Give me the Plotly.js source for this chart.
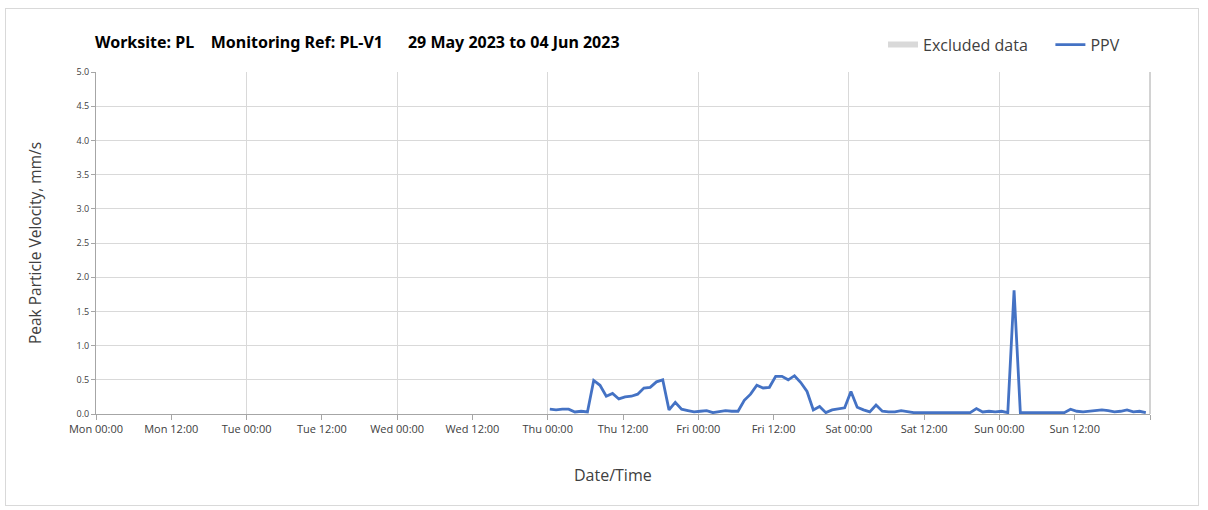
<!DOCTYPE html>
<html>
<head>
<meta charset="utf-8">
<script src="https://cdn.plot.ly/plotly-3.0.1.min.js"></script>
<style>
  html, body { margin: 0; padding: 0; background: #fff; }
  #wrap { position: relative; width: 1208px; height: 510px; }
  #chart { width: 1208px; height: 510px; }
  #frame { position: absolute; left: 5px; top: 8px; width: 1192px; height: 496px; border: 1px solid #d9d9d9; pointer-events: none; }
</style>
</head>
<body>
<div id="wrap">
  <div id="chart"></div>
  <div id="frame"></div>
</div>
<script>
// ---- Data ----
const titleText = "Worksite: PL&nbsp;&nbsp;&nbsp;&nbsp;Monitoring Ref: PL-V1&nbsp;&nbsp;&nbsp;&nbsp;&nbsp;&nbsp;29 May 2023 to 04 Jun 2023";
const rangeStart = "2023-05-29 00:00";
const rangeEnd = "2023-06-05 00:00";
const firstReading = "2023-06-01 00:20";   // hourly readings from here
const ppv = [
  // Thu
  0.07, 0.06, 0.07, 0.07, 0.03, 0.04, 0.03, 0.49, 0.42, 0.26, 0.30, 0.22,
  0.25, 0.26, 0.29, 0.38, 0.39, 0.47, 0.50, 0.06, 0.17, 0.07, 0.05, 0.03,
  // Fri
  0.04, 0.05, 0.02, 0.04, 0.05, 0.04, 0.04, 0.20, 0.29, 0.42, 0.38, 0.39,
  0.55, 0.55, 0.50, 0.56, 0.46, 0.33, 0.06, 0.11, 0.02, 0.06, 0.08, 0.09,
  // Sat
  0.33, 0.10, 0.06, 0.03, 0.13, 0.04, 0.03, 0.03, 0.05, 0.03, 0.02, 0.02,
  0.02, 0.02, 0.02, 0.02, 0.02, 0.02, 0.02, 0.02, 0.08, 0.03, 0.04, 0.03,
  // Sun
  0.04, 0.02, 1.81, 0.02, 0.02, 0.02, 0.02, 0.02, 0.02, 0.02, 0.02, 0.07,
  0.04, 0.03, 0.04, 0.05, 0.06, 0.05, 0.03, 0.04, 0.06, 0.03, 0.04, 0.02
];
const yTicks = [0, 0.5, 1, 1.5, 2, 2.5, 3, 3.5, 4, 4.5, 5];
const dayNames = ["Mon", "Tue", "Wed", "Thu", "Fri", "Sat", "Sun"];
const halfDayHours = ["00:00", "12:00"];
const xTitle = "Date/Time";
const yTitle = "Peak Particle Velocity, mm/s";

// ---- Build ----
function pad(n) { return (n < 10 ? "0" : "") + n; }
function fmt(d) {
  return d.getUTCFullYear() + "-" + pad(d.getUTCMonth() + 1) + "-" + pad(d.getUTCDate()) +
    " " + pad(d.getUTCHours()) + ":" + pad(d.getUTCMinutes());
}
const t0 = new Date(firstReading.replace(" ", "T") + ":00Z");
const times = ppv.map((_, i) => fmt(new Date(t0.getTime() + i * 3600000)));

const start = new Date(rangeStart.replace(" ", "T") + ":00Z");
const tickVals = [], tickText = [], dayVals = [];
for (let d = 0; d <= dayNames.length; d++) {
  dayVals.push(fmt(new Date(start.getTime() + d * 86400000)));
  halfDayHours.forEach((h, k) => {
    const t = new Date(start.getTime() + d * 86400000 + k * 43200000);
    if (t.getTime() <= start.getTime() + dayNames.length * 86400000) {
      tickVals.push(fmt(t));
      tickText.push(d < dayNames.length ? dayNames[d] + " " + h : "");
    }
  });
}

const font = "Open Sans, Noto Sans, sans-serif";
const traces = [
  {
    x: [null], y: [null], type: "scatter", mode: "none", fill: "tozeroy",
    fillcolor: "#d9d9d9", name: "Excluded data", hoverinfo: "skip", legend: "legend"
  },
  {
    x: times, y: ppv, type: "scatter", mode: "lines", name: "PPV",
    line: { color: "#4472c4", width: 2.8 }, legend: "legend2"
  },
  { x: [], y: [], xaxis: "x2", showlegend: false, hoverinfo: "skip" }
];

const legendCommon = {
  orientation: "h", xanchor: "left", y: 1.08, yanchor: "middle",
  font: { family: font, size: 16, color: "#404040" },
  itemwidth: 30, bgcolor: "rgba(0,0,0,0)"
};

const layout = {
  width: 1208, height: 510,
  margin: { l: 96, r: 58, t: 72, b: 96 },
  paper_bgcolor: "#ffffff", plot_bgcolor: "#ffffff",
  font: { family: font, color: "#404040" },
  title: {
    text: "<b>" + titleText + "</b>",
    xref: "container", x: 95 / 1208, xanchor: "left",
    yref: "container", y: 1 - 42 / 510, yanchor: "middle",
    font: { family: "Noto Sans, sans-serif", size: 16, color: "#000" }
  },
  showlegend: true,
  legend: Object.assign({}, legendCommon, { x: 0.7467 }),
  legend2: Object.assign({}, legendCommon, { x: 0.9055 }),
  xaxis: {
    type: "date", range: [rangeStart, rangeEnd],
    tickmode: "array", tickvals: tickVals, ticktext: tickText,
    showgrid: false, zeroline: false,
    showline: true, linecolor: "#a6a6a6", linewidth: 1,
    ticks: "outside", ticklen: 5, tickcolor: "#a6a6a6",
    tickfont: { family: font, size: 11, color: "#404040" }
  },
  xaxis2: {
    type: "date", range: [rangeStart, rangeEnd], overlaying: "x", anchor: "y",
    tickmode: "array", tickvals: dayVals, showticklabels: false, ticks: "",
    showgrid: true, gridcolor: "#d9d9d9", gridwidth: 1, zeroline: false, showline: false
  },
  yaxis: {
    range: [0, 5], tickmode: "array", tickvals: yTicks, tickformat: ".1f",
    showgrid: true, gridcolor: "#d9d9d9", gridwidth: 1, zeroline: false,
    showline: true, linecolor: "#a6a6a6", linewidth: 1, mirror: false,
    ticks: "outside", ticklen: 4, tickcolor: "#a6a6a6",
    tickfont: { family: font, size: 9, color: "#404040" },
    title: { text: yTitle, standoff: 31, font: { family: font, size: 15.5, color: "#404040" } }
  },
  annotations: [
    {
      text: xTitle, xref: "paper", yref: "paper", x: 0.4905, y: -0.178,
      xanchor: "center", yanchor: "middle", showarrow: false,
      font: { family: font, size: 16, color: "#404040" }
    }
  ],
  shapes: [
    { type: "line", xref: "paper", yref: "paper", x0: 1, x1: 1, y0: 0, y1: 1, line: { color: "#a6a6a6", width: 1 } }
  ]
};

Plotly.newPlot("chart", traces, layout, { displayModeBar: false, staticPlot: true });
</script>
</body>
</html>
